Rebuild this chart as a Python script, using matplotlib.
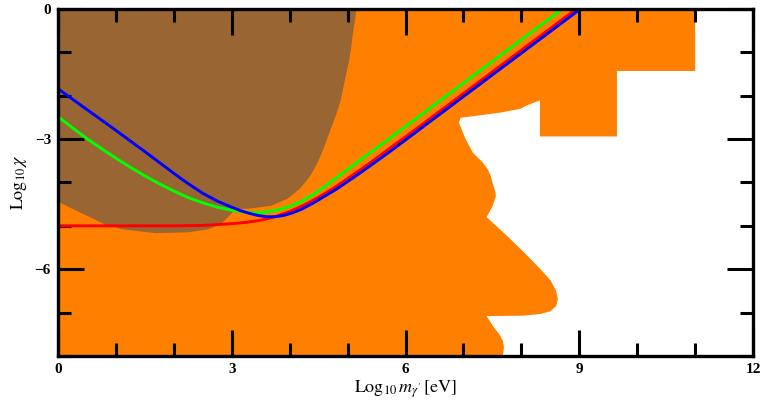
import numpy as np
import matplotlib
matplotlib.use("Agg")
import matplotlib.pyplot as plt
from matplotlib.patches import Polygon
from matplotlib.ticker import MultipleLocator

plt.rcParams['font.family'] = ['Liberation Serif', 'DejaVu Serif']
plt.rcParams['mathtext.fontset'] = 'stix'

# excluded region (orange), outline
orange_x = [0, 11.0, 11.0, 9.65, 9.65, 8.32, 8.32, 8.10, 7.99, 7.64, 7.30, 6.95, 6.92, 7.04,
            7.16, 7.25, 7.34, 7.42, 7.47, 7.52, 7.55, 7.56, 7.50, 7.40, 7.76, 8.11, 8.33,
            8.50, 8.60, 8.63, 8.60, 8.50, 8.33, 8.04, 7.40, 7.52, 7.62, 7.68, 7.70, 7.68, 0]
orange_y = [0, 0, -1.43, -1.43, -2.94, -2.94, -2.11, -2.22, -2.30, -2.39, -2.45, -2.51, -2.62,
            -3.01, -3.31, -3.43, -3.55, -3.70, -3.85, -4.09, -4.20, -4.32, -4.55, -4.80, -5.24,
            -5.70, -6.00, -6.25, -6.50, -6.69, -6.85, -6.97, -7.03, -7.07, -7.08, -7.33, -7.50,
            -7.65, -7.80, -8.0, -8.0]

# brown region
brown_x = [0, 5.15, 5.13, 5.10, 5.07, 5.03, 4.96, 4.88, 4.80, 4.70, 4.58, 4.48, 4.36, 4.18,
           3.96, 3.67, 3.32, 3.08, 3.01, 2.93, 2.84, 2.72, 2.59, 2.25, 1.68, 1.11, 0.81,
           0.52, 0.25, 0]
brown_y = [0, 0, -0.25, -0.48, -0.80, -1.17, -1.60, -2.11, -2.45, -2.80, -3.24, -3.55, -3.84,
           -4.14, -4.38, -4.54, -4.60, -4.62, -4.69, -4.81, -4.92, -5.01, -5.08, -5.15, -5.17,
           -5.08, -4.97, -4.78, -4.61, -4.44]

# curves
red_x = [0, 1, 2, 2.5, 3, 3.25, 3.5, 3.75, 4, 4.25, 4.5, 4.75, 5, 5.25, 5.5, 5.75, 6, 6.5,
         7, 8, 8.95]
red_y = [-5.0, -5.0, -5.0, -4.99, -4.95, -4.92, -4.87, -4.79, -4.67, -4.52, -4.34, -4.14,
         -3.91, -3.68, -3.44, -3.19, -2.95, -2.45, -1.95, -0.95, 0.0]

blue_x = [0, 0.5, 1, 1.5, 2, 2.25, 2.5, 2.75, 3, 3.15, 3.3, 3.45, 3.6, 3.75, 3.9, 4.05, 4.2,
          4.4, 4.6, 4.8, 5, 5.25, 5.5, 5.75, 6, 6.5, 7, 8, 9.02]
blue_y = [-1.84, -2.32, -2.80, -3.29, -3.79, -4.03, -4.25, -4.43, -4.57, -4.65, -4.71, -4.76,
          -4.79, -4.79, -4.76, -4.70, -4.62, -4.48, -4.32, -4.16, -3.98, -3.75, -3.51, -3.27,
          -3.02, -2.52, -2.02, -1.02, 0.0]

green_x = [0, 0.25, 0.5, 0.75, 1, 1.25, 1.5, 1.75, 2, 2.25, 2.5, 2.75, 3, 3.2, 3.4, 3.6, 3.8,
           4.0, 4.2, 4.45, 4.7, 4.95, 5.2, 5.6, 6, 6.5, 7, 8, 8.71]
green_y = [-2.48, -2.74, -2.99, -3.22, -3.44, -3.65, -3.85, -4.03, -4.20, -4.35, -4.47, -4.57,
           -4.64, -4.68, -4.70, -4.68, -4.63, -4.55, -4.44, -4.24, -4.00, -3.75, -3.50, -3.11,
           -2.71, -2.21, -1.71, -0.71, 0.0]

xticks = [0, 3, 6, 9, 12]
yticks = [0, -3, -6]
ytick_labels = ['0', '\u22123', '\u22126']

fig = plt.figure(figsize=(7.63, 4.05), dpi=100)
ax = fig.add_axes([0.076, 0.121, 0.911, 0.857])

ax.add_patch(Polygon(np.column_stack([orange_x, orange_y]), closed=True,
                     facecolor='#ff8000', edgecolor='none', zorder=1))
ax.add_patch(Polygon(np.column_stack([brown_x, brown_y]), closed=True,
                     facecolor='#996633', edgecolor='none', zorder=1.1))

lw = 2.1
ax.plot(red_x, red_y, color='#ff0000', lw=lw, zorder=3, solid_joinstyle='round')
ax.plot(green_x, green_y, color='#00ff00', lw=lw, zorder=3, solid_joinstyle='round')
ax.plot(blue_x, blue_y, color='#0000ff', lw=lw, zorder=3, solid_joinstyle='round')

ax.set_xlim(0, 12)
ax.set_ylim(-8, 0)

ax.set_xticks(xticks)
ax.set_xticklabels([str(t) for t in xticks], fontweight='bold', fontsize=11)
ax.set_yticks(yticks)
ax.set_yticklabels(ytick_labels, fontweight='bold', fontsize=11)
ax.xaxis.set_minor_locator(MultipleLocator(1))
ax.yaxis.set_minor_locator(MultipleLocator(1))
ax.tick_params(which='both', direction='in', top=True, right=True, width=2.2, color='black')
ax.tick_params(which='major', length=19, pad=5)
ax.tick_params(which='minor', length=9.5)
for s in ax.spines.values():
    s.set_linewidth(2.4)
    s.set_zorder(4)

ax.set_xlabel(r"$\mathrm{Log}_{10}\,m_{\gamma'}\,[\mathrm{eV}]$", fontsize=13, labelpad=2)
ax.set_ylabel(r"$\mathrm{Log}_{10}\,\chi$", fontsize=13, labelpad=4)

fig.savefig('out.png', dpi=100)
